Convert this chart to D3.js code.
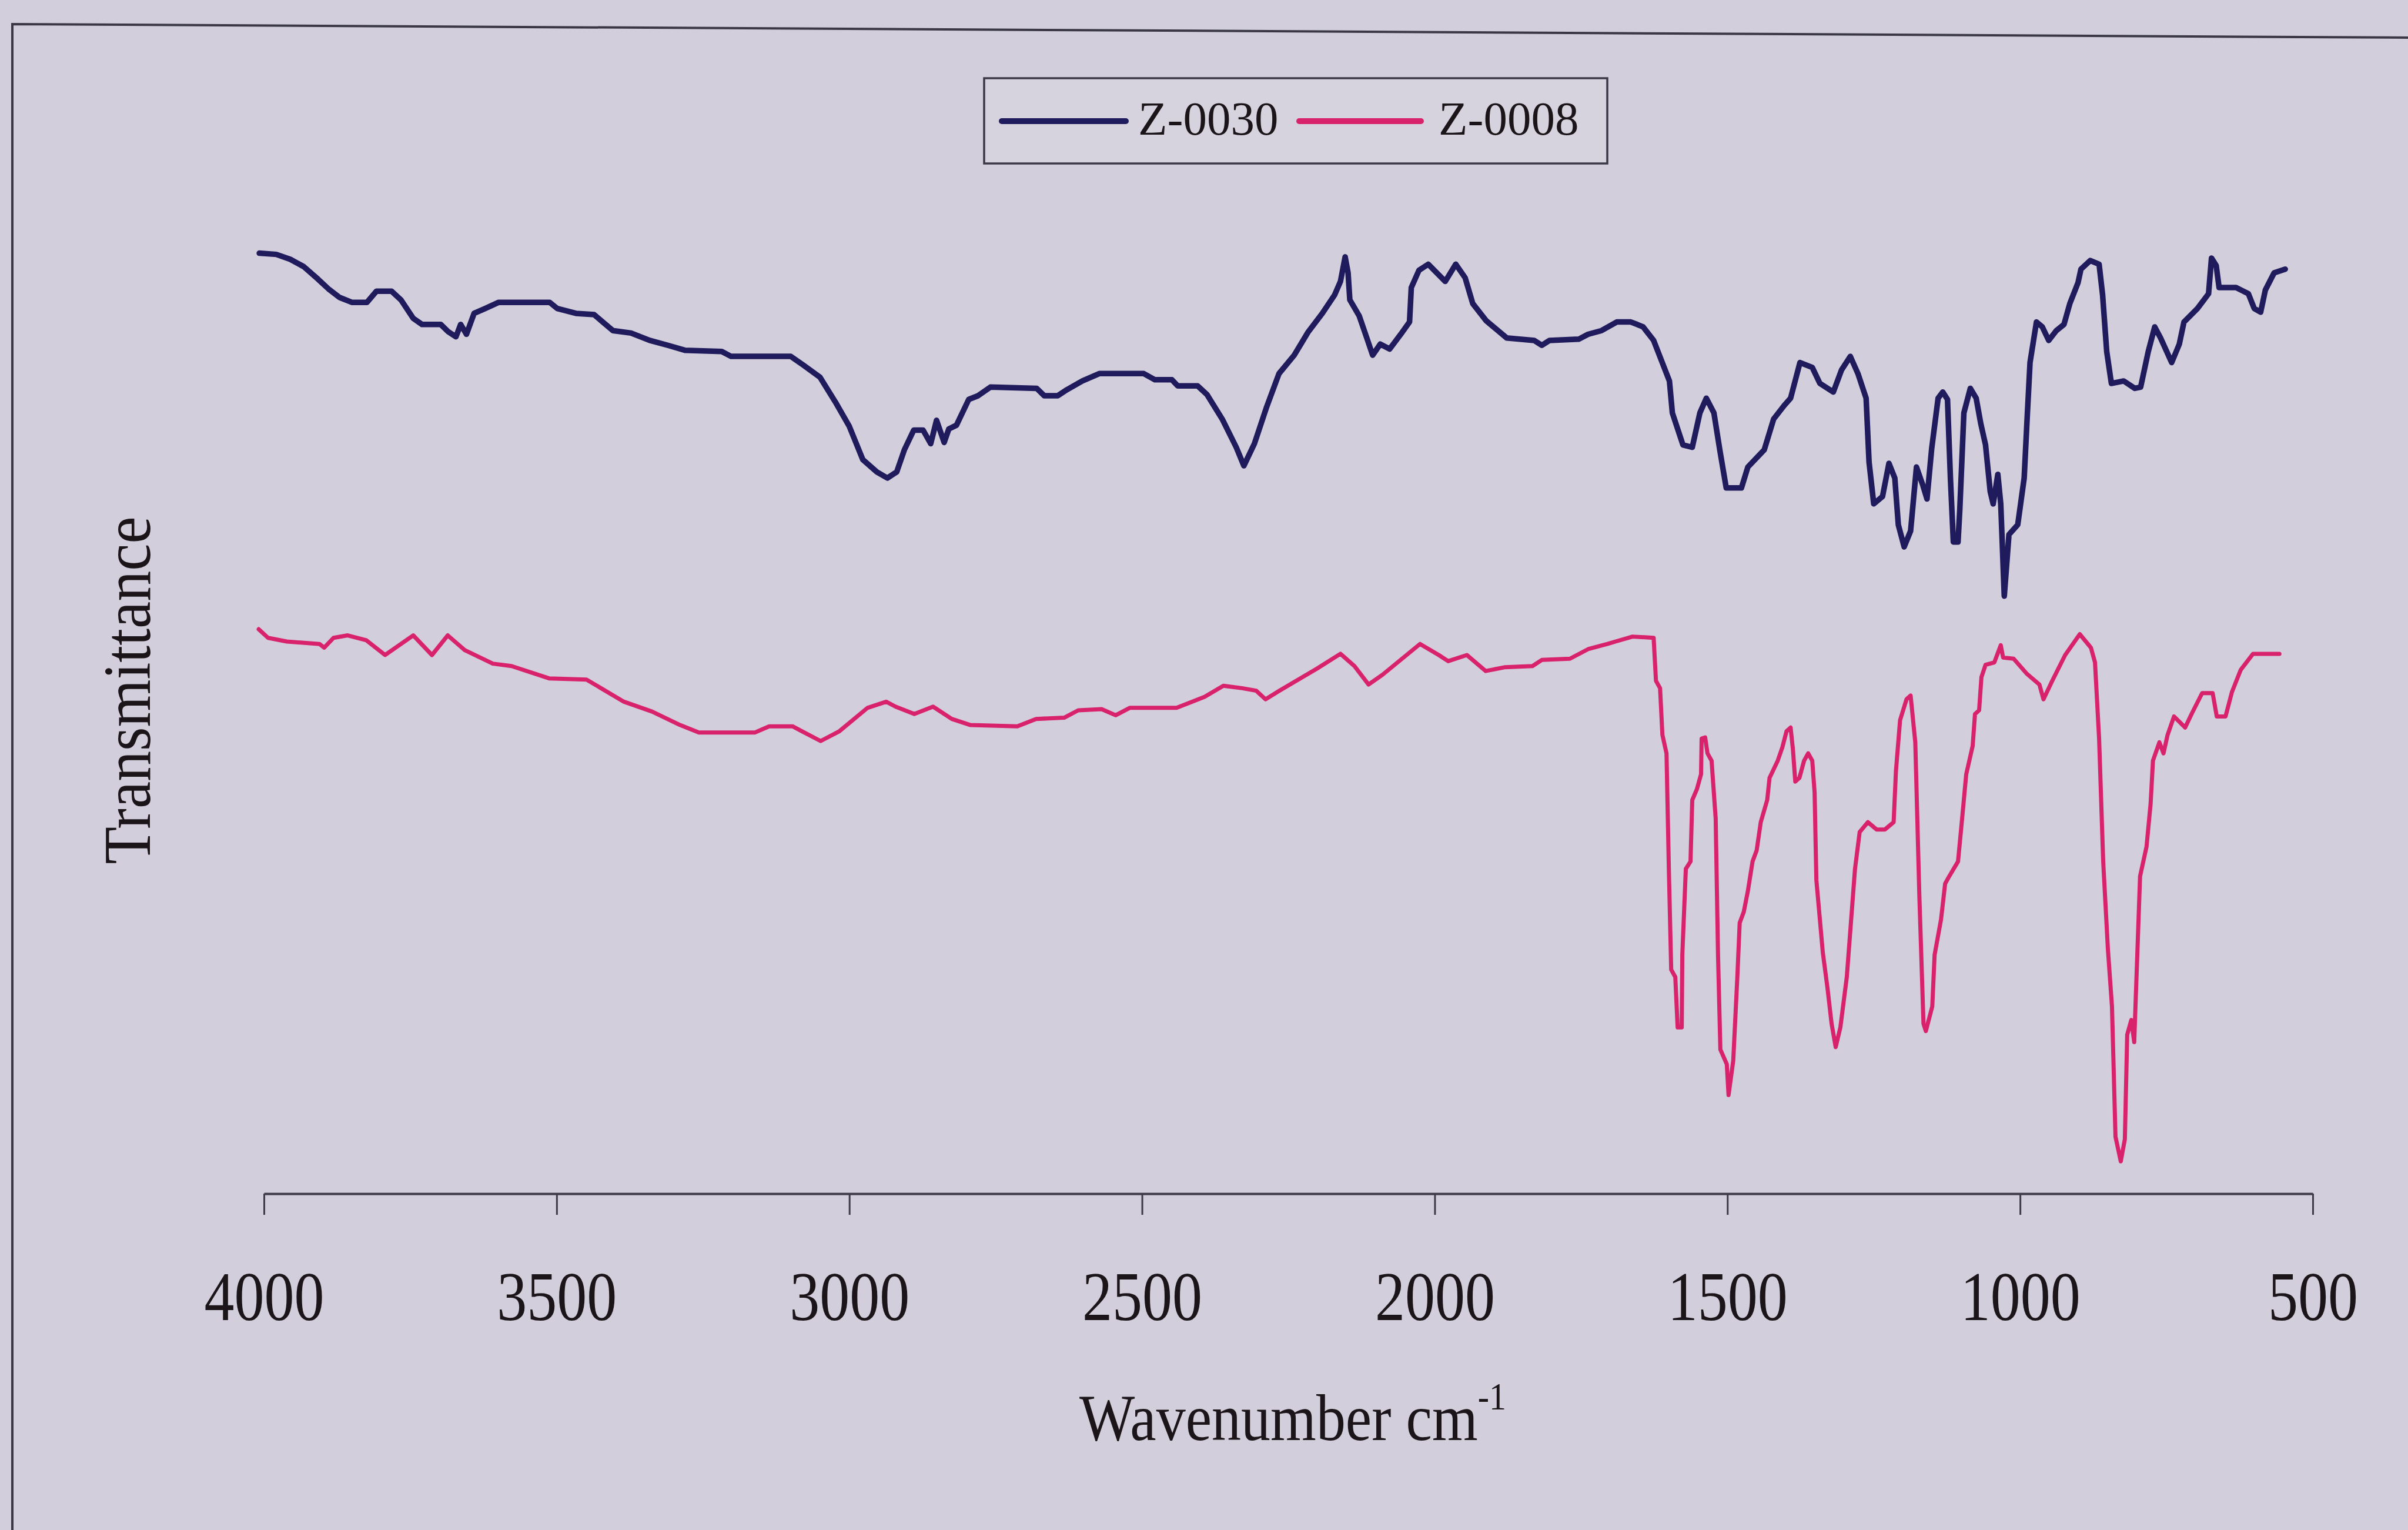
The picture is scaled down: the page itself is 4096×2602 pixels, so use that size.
<!DOCTYPE html>
<html><head><meta charset="utf-8">
<script src="https://cdn.jsdelivr.net/npm/d3@7"></script>
<style>
html,body{margin:0;padding:0;background:#d2cedb;}
svg{display:block;}
</style></head><body>
<script>
const W = 4096, H = 2602;

// ---- data ----
const xTicks = [4000, 3500, 3000, 2500, 2000, 1500, 1000, 500];
const seriesNames = ["Z-0030", "Z-0008"];
const seriesColors = ["#1f1b5c", "#d8226c"];
const xTitle = "Wavenumber cm";
const xTitleSup = "-1";
const yTitle = "Transmittance";

const z0030Wn = [4008,3979,3955,3932,3908,3890,3871,3850,3824,3808,3782,3766,3745,3730,3698,3685,3672,3664,3654,3641,3622,3599,3512,3499,3467,3436,3404,3373,3341,3310,3281,3218,3202,3100,3079,3050,3024,3000,2977,2953,2935,2919,2906,2890,2874,2861,2851,2838,2830,2817,2796,2780,2759,2680,2667,2644,2628,2602,2573,2497,2478,2449,2439,2405,2389,2363,2339,2326,2308,2287,2266,2240,2216,2192,2171,2161,2153,2148,2145,2129,2116,2106,2093,2077,2058,2043,2040,2027,2011,1982,1964,1948,1935,1912,1877,1830,1817,1804,1754,1738,1715,1689,1665,1654,1644,1626,1599,1594,1576,1560,1547,1536,1523,1513,1502,1476,1465,1437,1421,1403,1392,1376,1355,1342,1319,1305,1290,1277,1263,1258,1250,1235,1224,1214,1208,1198,1187,1177,1166,1159,1151,1140,1132,1124,1119,1114,1106,1103,1096,1085,1075,1067,1059,1051,1046,1038,1033,1027,1019,1004,993,988,983,972,962,951,938,925,915,901,896,880,865,859,852,844,823,804,794,781,770,760,741,728,720,697,678,673,665,660,631,610,600,589,581,566,547];
const z0030T = [79.4,79.3,78.9,78.3,77.3,76.5,75.8,75.4,75.4,76.3,76.3,75.6,74.1,73.6,73.6,73.0,72.6,73.6,72.8,74.5,74.9,75.4,75.4,74.9,74.5,74.4,73.1,72.9,72.3,71.9,71.5,71.4,71.0,71.0,70.3,69.3,67.3,65.3,62.6,61.6,61.1,61.6,63.4,65.0,65.0,63.9,65.8,64.0,65.1,65.4,67.5,67.8,68.5,68.4,67.8,67.8,68.3,69.0,69.6,69.6,69.1,69.1,68.6,68.6,67.9,65.9,63.6,62.1,63.9,66.9,69.6,71.1,73.0,74.5,76.0,77.1,79.1,77.8,75.6,74.3,72.5,71.1,72.0,71.6,72.8,73.8,76.6,78.0,78.5,77.1,78.5,77.4,75.3,73.9,72.5,72.3,71.9,72.3,72.4,72.8,73.1,73.8,73.8,73.6,73.4,72.3,69.0,66.4,63.8,63.6,66.4,67.6,66.4,63.4,60.3,60.3,62.0,63.4,65.9,67.0,67.6,70.5,70.1,68.8,68.1,69.9,71.0,69.6,67.6,62.4,59.0,59.6,62.3,61.1,57.3,55.5,56.8,62.0,60.5,59.4,63.5,67.6,68.1,67.5,61.1,55.9,55.9,58.5,66.4,68.4,67.6,65.5,63.8,60.0,59.0,61.4,59.0,51.5,56.5,57.3,61.1,65.9,70.5,73.8,73.4,72.3,73.1,73.6,75.3,77.0,78.1,78.8,78.5,76.0,71.4,68.8,69.0,68.4,68.5,71.4,73.4,72.5,70.5,72.0,73.8,74.9,76.1,79.0,78.4,76.6,76.6,76.1,74.9,74.6,76.4,77.8,78.1];

const z0008Wn = [4009,3993,3961,3905,3897,3881,3857,3825,3793,3745,3713,3686,3657,3609,3577,3513,3449,3385,3337,3289,3257,3161,3137,3097,3081,3049,3017,2969,2937,2921,2889,2857,2825,2793,2713,2681,2633,2609,2569,2545,2521,2441,2393,2361,2329,2305,2289,2265,2201,2161,2137,2113,2089,2025,1993,1977,1945,1913,1881,1833,1817,1769,1737,1705,1691,1662,1626,1622,1615,1611,1604,1600,1596,1589,1585,1578,1577,1571,1563,1560,1552,1545,1544,1538,1534,1527,1520,1516,1512,1501,1498,1490,1483,1479,1472,1465,1457,1450,1443,1432,1428,1414,1406,1399,1392,1388,1384,1377,1369,1362,1355,1351,1348,1337,1329,1322,1315,1307,1296,1289,1282,1274,1260,1245,1231,1216,1212,1205,1194,1187,1179,1172,1165,1161,1150,1146,1135,1128,1121,1106,1099,1092,1081,1077,1070,1066,1059,1044,1033,1029,1011,989,967,960,945,923,898,879,872,865,858,850,843,837,828,821,817,810,805,802,795,784,777,773,762,755,748,737,718,707,689,671,664,649,638,623,602,557];
const z0008T = [48.8,48.1,47.8,47.6,47.3,48.1,48.3,47.9,46.7,48.3,46.7,48.3,47.1,46.0,45.8,44.8,44.7,42.9,42.1,41.0,40.4,40.4,40.9,40.9,40.5,39.7,40.5,42.4,42.9,42.5,41.9,42.5,41.5,41.0,40.9,41.5,41.6,42.2,42.3,41.8,42.4,42.4,43.3,44.2,44.0,43.8,43.1,43.8,45.6,46.8,45.8,44.3,45.1,47.6,46.7,46.2,46.7,45.4,45.7,45.8,46.3,46.4,47.2,47.6,47.8,48.2,48.1,44.6,44.0,40.2,38.7,29.3,21.1,20.5,16.4,16.4,22.3,29.3,29.9,34.9,35.8,37.0,39.9,40.0,38.7,38.1,33.4,22.3,14.6,13.4,10.9,13.7,20.5,24.9,25.8,27.5,29.9,30.8,33.1,34.9,36.7,38.1,39.2,40.5,40.8,39.0,36.4,36.7,38.1,38.7,38.1,35.5,28.4,22.5,19.6,16.7,14.8,16.4,20.5,24.9,29.3,32.3,33.1,32.5,32.5,33.1,37.3,41.4,43.1,43.4,39.6,27.0,16.7,16.1,18.1,22.3,25.2,28.1,28.7,29.9,33.4,37.0,39.3,41.9,42.2,44.9,45.9,46.1,47.5,46.5,46.4,45.2,44.3,43.1,44.6,46.7,48.4,47.3,46.1,39.9,29.9,22.8,18.1,7.5,5.5,7.3,15.8,17.0,15.2,19.3,28.7,31.1,34.6,38.1,39.6,38.7,40.2,41.7,40.8,41.9,43.6,43.6,41.7,41.7,43.7,45.5,46.8,46.8];

// ---- drawing ----
const svg = d3.select("body").append("svg")
  .attr("width", W).attr("height", H).attr("viewBox", `0 0 ${W} ${H}`);

svg.append("rect").attr("width", W).attr("height", H).attr("fill", "#d2cedb");

// outer chart frame (top and left edges visible)
svg.append("path")
  .attr("d", `M21,${H} L21,41 L${W},64`)
  .attr("fill", "none").attr("stroke", "#3a3846").attr("stroke-width", 4);

const x = d3.scaleLinear().domain([4000, 500]).range([449, 3934]);
const y = d3.scaleLinear().domain([0, 100]).range([2090, 0]);

const fontFam = "'Liberation Serif', 'Times New Roman', serif";
const textCol = "#1b1418";

// x axis
const axisY = 2030;
const ax = svg.append("g")
  .attr("transform", `translate(0,${axisY})`)
  .call(d3.axisBottom(x).tickValues(xTicks).tickSize(36).tickSizeOuter(0).tickFormat(d3.format("d")));
ax.attr("font-family", fontFam).attr("font-size", 102);
ax.select(".domain").attr("stroke", "#3d3b48").attr("stroke-width", 4);
ax.selectAll(".tick line").attr("stroke", "#3d3b48").attr("stroke-width", 3);
ax.selectAll(".tick text")
  .attr("y", null).attr("dy", null)
  .attr("fill", textCol)
  .attr("transform", "translate(0,215) scale(1,1.16)");

// x axis title
const xt = svg.append("g").attr("transform", "translate(1836,2449) scale(1,1.12)");
const xtt = xt.append("text")
  .attr("font-family", fontFam).attr("font-size", 100).attr("fill", textCol)
  .text(xTitle);
xtt.append("tspan").attr("font-size", 58).attr("dy", -46).text(xTitleSup);

// y axis title
svg.append("g").attr("transform", "translate(255,1174) rotate(-90) scale(1,1.1)")
  .append("text")
  .attr("text-anchor", "middle")
  .attr("font-family", fontFam).attr("font-size", 104).attr("fill", textCol)
  .text(yTitle);

// series
const series = [
  {name: seriesNames[0], wn: z0030Wn, t: z0030T, color: seriesColors[0], width: 9.5},
  {name: seriesNames[1], wn: z0008Wn, t: z0008T, color: seriesColors[1], width: 7}
];
const line = d3.line().x(d => x(d[0])).y(d => y(d[1]));
series.forEach(s => {
  const pts = s.wn.map((w, i) => [w, s.t[i]]);
  svg.append("path").datum(pts)
    .attr("d", line)
    .attr("fill", "none")
    .attr("stroke", s.color)
    .attr("stroke-width", s.width)
    .attr("stroke-linejoin", "round")
    .attr("stroke-linecap", "round");
});

// legend
const lg = svg.append("g");
lg.append("rect").attr("x", 1674).attr("y", 133).attr("width", 1060).attr("height", 145)
  .attr("fill", "#d6d3df").attr("stroke", "#3a3846").attr("stroke-width", 3.5);
const legItems = [
  {x0: 1704, x1: 1915, tx: 1936},
  {x0: 2210, x1: 2417, tx: 2447}
];
series.forEach((s, i) => {
  const it = legItems[i];
  lg.append("line").attr("x1", it.x0).attr("x2", it.x1).attr("y1", 206).attr("y2", 206)
    .attr("stroke", s.color).attr("stroke-width", 10).attr("stroke-linecap", "round");
  lg.append("text").attr("x", it.tx).attr("y", 229)
    .attr("font-family", fontFam).attr("font-size", 81).attr("fill", textCol)
    .text(s.name);
});
</script>
</body></html>
